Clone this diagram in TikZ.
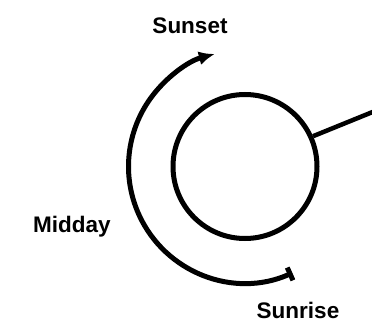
\documentclass[tikz,border=0pt]{standalone}
\usepackage{fontspec}
\setmainfont{Liberation Sans}
\usetikzlibrary{arrows.meta}

\begin{document}
\begin{tikzpicture}[x=1pt,y=1pt,>={Latex[length=16pt,width=14pt]},
    lbl/.style={font=\bfseries\fontsize{22.5}{27}\selectfont}]
  \useasboundingbox (0,0) rectangle (372,322);
  \clip (0,0) rectangle (372,322);
  % the disc and its stick
  \node[circle, draw, line width=5pt, minimum size=144pt, inner sep=0pt] (disc) at (245,155.5) {};
  \coordinate (rim) at (380,213);
  \draw[line width=4.5pt] (disc.24) -- (rim);
  % path of the day
  \draw[line width=5pt, {Bar[width=14pt]}->] (disc.center) ++(294:116.5)
    arc[start angle=294, end angle=105, radius=116.5];
  \node[lbl] (sunset) at (190,296) {Sunset};
  \node[lbl] (midday) at (72,95) {Midday};
  \node[lbl] (sunrise) at (298,12) {Sunrise};
\end{tikzpicture}
\end{document}
